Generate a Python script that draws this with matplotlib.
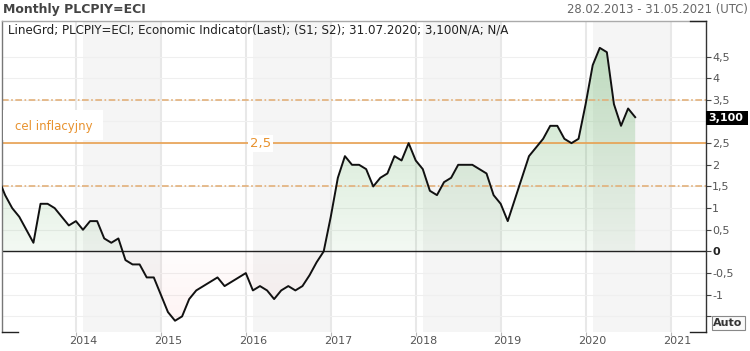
import numpy as np
import matplotlib
matplotlib.use("Agg")
import matplotlib.pyplot as plt
from matplotlib.path import Path
from matplotlib.patches import Rectangle
from matplotlib.lines import Line2D

plt.rcParams['font.family'] = ['DejaVu Sans']

# ---------------- data (monthly CPI y/y, month-end values) ----------------
start_year = 2013
start_month = 1
cpi_2013 = [1.7, 1.3, 1.0, 0.8, 0.5, 0.2, 1.1, 1.1, 1.0, 0.8, 0.6, 0.7]
cpi_2014 = [0.5, 0.7, 0.7, 0.3, 0.2, 0.3, -0.2, -0.3, -0.3, -0.6, -0.6, -1.0]
cpi_2015 = [-1.4, -1.6, -1.5, -1.1, -0.9, -0.8, -0.7, -0.6, -0.8, -0.7, -0.6, -0.5]
cpi_2016 = [-0.9, -0.8, -0.9, -1.1, -0.9, -0.8, -0.9, -0.8, -0.55, -0.25, 0.0, 0.8]
cpi_2017 = [1.7, 2.2, 2.0, 2.0, 1.9, 1.5, 1.7, 1.8, 2.2, 2.1, 2.5, 2.1]
cpi_2018 = [1.9, 1.4, 1.3, 1.6, 1.7, 2.0, 2.0, 2.0, 1.9, 1.8, 1.3, 1.1]
cpi_2019 = [0.7, 1.2, 1.7, 2.2, 2.4, 2.6, 2.9, 2.9, 2.6, 2.5, 2.6, 3.4]
cpi_2020 = [4.3, 4.7, 4.6, 3.4, 2.9, 3.3, 3.1]

target = 2.5
band_low = 1.5
band_high = 3.5
last_label = "3,100"

year_ticks = [2014, 2015, 2016, 2017, 2018, 2019, 2020, 2021]
shaded_years = [2014, 2016, 2018, 2020]
y_ticks = [-1.5, -1.0, -0.5, 0.0, 0.5, 1.0, 1.5, 2.0, 2.5, 3.0, 3.5, 4.0, 4.5]
hidden_y_labels = [-1.5, 3.0]

title = "Monthly PLCPIY=ECI"
date_range = "28.02.2013 - 31.05.2021 (UTC)"
legend_text = ("LineGrd; PLCPIY=ECI; Economic Indicator(Last); (S1; S2); "
               "31.07.2020; 3,100N/A; N/A")
target_label = "cel inflacyjny"

values = np.array(cpi_2013 + cpi_2014 + cpi_2015 + cpi_2016 + cpi_2017 +
                  cpi_2018 + cpi_2019 + cpi_2020)
x = start_year + (np.arange(len(values)) + start_month) / 12.0

# ---------------- figure ----------------
W, H = 750, 351
fig = plt.figure(figsize=(W / 100, H / 100), dpi=100)
fig.patch.set_facecolor('white')


def fx(px):
    return px / W


def fy(py):
    return 1 - py / H


ax_left, ax_right, ax_top, ax_bot = 2, 706, 21, 332
ax = fig.add_axes([fx(ax_left), fy(ax_bot), (ax_right - ax_left) / W,
                   (ax_bot - ax_top) / H])
ax.set_facecolor('white')

# shaded year bands & grid
for yr in shaded_years:
    ax.axvspan(yr + 1 / 12, yr + 1, color='#f5f5f5', lw=0, zorder=0)
for yr in year_ticks:
    ax.axvline(yr, color='#e8e8e8', lw=1.5, zorder=0.5)
for v in y_ticks:
    ax.axhline(v, color='#efefef', lw=0.8, zorder=0.5)

# gradient fills
pos = ax.fill_between(x, values, 0, where=values >= 0, interpolate=True,
                      facecolor='none', edgecolor='none')
neg = ax.fill_between(x, values, 0, where=values <= 0, interpolate=True,
                      facecolor='none', edgecolor='none')
ymax = values.max()
ymin = values.min()

t = np.linspace(0, 1, 256)
g = np.zeros((256, 1, 4))
g[:, 0, 0] = 0.33
g[:, 0, 1] = 0.66
g[:, 0, 2] = 0.33
g[:, 0, 3] = 0.07 + 0.27 * t
im = ax.imshow(g, extent=[x[0], x[-1], 0, ymax], origin='lower',
               aspect='auto', zorder=1, interpolation='bilinear')
im.set_clip_path(Path.make_compound_path(*pos.get_paths()),
                 transform=ax.transData)

r = np.zeros((256, 1, 4))
r[:, 0, 0] = 0.95
r[:, 0, 1] = 0.45
r[:, 0, 2] = 0.45
r[:, 0, 3] = 0.08 - 0.06 * t
im2 = ax.imshow(r, extent=[x[0], x[-1], 0, ymin], origin='upper',
                aspect='auto', zorder=1, interpolation='bilinear')
im2.set_clip_path(Path.make_compound_path(*neg.get_paths()),
                  transform=ax.transData)

# reference lines
ax.axhline(0, color='#222222', lw=1.0, zorder=2)
ax.axhline(target, color='#e8a050', lw=1.2, zorder=2)
for v in (band_low, band_high):
    ax.axhline(v, color='#e2b07a', lw=1.2, zorder=2,
               linestyle=(0, (4, 1.5, 1, 1.5)))

ax.text(2016.17, target, "2,5", color='#e8922e', fontsize=9.5, ha='center',
        va='center', zorder=4,
        bbox=dict(facecolor='white', edgecolor='none', pad=1.5))

# main line
ax.plot(x, values, color='#111111', lw=1.4, zorder=3, solid_joinstyle='round')

ax.set_xlim(2013.13, 2021.417)
ax.set_ylim(-1.86, 5.32)

# axes styling
ax.spines['bottom'].set_visible(False)
ax.spines['left'].set_color('#777777')
ax.spines['top'].set_color('#aaaaaa')
ax.spines['right'].set_color('#333333')
for s in ('left', 'top', 'right'):
    ax.spines[s].set_linewidth(1.0)

ax.yaxis.tick_right()
ax.set_yticks(y_ticks)


def ylab(v):
    if any(abs(v - h) < 1e-9 for h in hidden_y_labels):
        return ""
    if v == int(v):
        return "%d" % int(v)
    return ("%.1f" % v).replace('.', ',')


ax.set_yticklabels([ylab(v) for v in y_ticks])
ax.tick_params(axis='y', which='major', length=3.5, width=0.8,
               color='#444444', labelsize=8, labelcolor='#555555', pad=1)
for lbl, v in zip(ax.get_yticklabels(), y_ticks):
    if v == 0:
        lbl.set_fontweight('bold')
        lbl.set_color('#222222')

ax.set_xticks(year_ticks)
ax.set_xticklabels([])
ax.set_xticks([yr + 1 / 12 for yr in year_ticks], minor=True)
ax.set_xticklabels([str(yr) for yr in year_ticks], minor=True)
ax.tick_params(axis='x', which='major', length=3, color='#bbbbbb')
ax.tick_params(axis='x', which='minor', length=0, labelsize=8,
               labelcolor='#555555', pad=3)

# corner brackets
for (x0, y0, x1, y1) in [(2, 332, 18, 332), (690, 332, 706, 332),
                         (690, 21, 706, 21)]:
    fig.add_artist(Line2D([fx(x0), fx(x1)], [fy(y0), fy(y1)],
                          color='#222222', lw=1.0))

# target label box
fig.add_artist(Rectangle((fx(2.5), fy(140)), (100) / W, 30 / H,
                         facecolor='white', edgecolor='none', zorder=2))
fig.text(fx(15), fy(126), target_label, color='#e8922e', fontsize=8.5,
         va='center', ha='left', zorder=3)

# last value box
fig.add_artist(Rectangle((fx(706), fy(124.5)), 42 / W, 14 / H,
                         facecolor='black', edgecolor='none', zorder=2))
fig.text(fx(708), fy(117.5), last_label, color='white', fontsize=8,
         fontweight='bold', va='center', ha='left', zorder=3)

# Auto box
fig.add_artist(Rectangle((fx(711.5), fy(329.5)), 33 / W, 13.5 / H,
                         facecolor='#fafafa', edgecolor='#888888', lw=0.8,
                         zorder=2))
fig.text(fx(728), fy(322.5), "Auto", color='#333333', fontsize=8,
         fontweight='bold', va='center', ha='center', zorder=3)

# header texts
fig.text(fx(3), fy(10), title, fontsize=9, fontweight='bold', color='#444444',
         va='center', ha='left')
fig.text(fx(748), fy(10), date_range, fontsize=8.4, color='#666666',
         va='center', ha='right')
fig.text(fx(8), fy(30), legend_text, fontsize=8.6, color='#222222',
         va='center', ha='left')

fig.savefig("out.png", dpi=100, facecolor='white')
